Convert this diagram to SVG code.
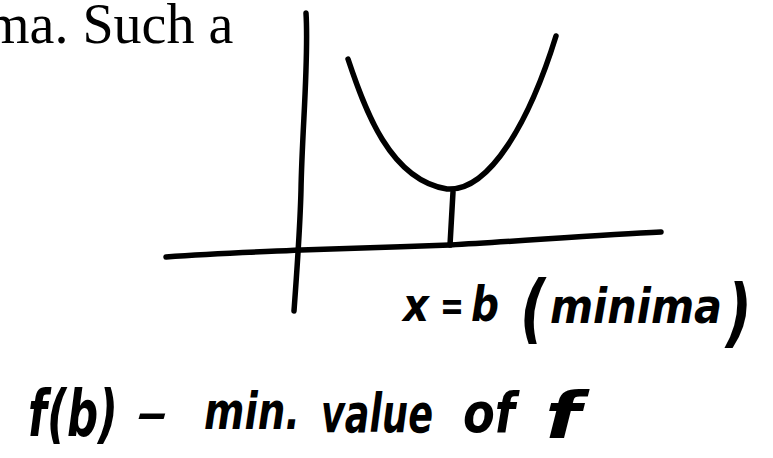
<svg xmlns="http://www.w3.org/2000/svg" width="773" height="458" viewBox="0 0 773 458">
<style>
.ink{fill:none;stroke:#000;stroke-width:5.5;stroke-linecap:round;stroke-linejoin:round}
.hand{font-family:"DejaVu Sans","Liberation Sans",sans-serif;font-style:italic;font-weight:bold;fill:#000}
.print{font-family:"Liberation Serif","Times New Roman",serif;fill:#000}
</style>
<rect width="773" height="458" fill="#fff"/>
<text class="print" x="-14" y="43" font-size="56">ma. Such a</text>
<g id="axes">
<path id="y-axis" class="ink" d="M306,13 C309,60 302,130 301,190 C300,230 297,270 294,311"/>
<path id="x-axis" class="ink" d="M166,257 C220,253 260,252 301,250 C360,248 400,247 450,245 C520,241 600,235 661,232"/>
</g>
<g id="curve">
<path class="ink" d="M348,59 C365,110 390,180 447,189 C490,192 530,120 556,36"/>
</g>
<g id="connectors">
<path class="ink" d="M453,192 L450,245"/>
</g>
<g id="label-minima">
<text class="hand" font-size="46" x="403" y="321" textLength="26" lengthAdjust="spacingAndGlyphs">x</text>
<text class="hand" font-size="40" x="440" y="320" textLength="24" lengthAdjust="spacingAndGlyphs">=</text>
<text class="hand" font-size="48" x="471" y="321" textLength="28" lengthAdjust="spacingAndGlyphs">b</text>
<text class="hand" font-size="74" x="520" y="334" textLength="26" lengthAdjust="spacingAndGlyphs">(</text>
<text class="hand" font-size="48" x="550" y="323" textLength="172" lengthAdjust="spacingAndGlyphs">minima</text>
<text class="hand" font-size="74" x="726" y="338" textLength="26" lengthAdjust="spacingAndGlyphs">)</text>
</g>
<g id="label-min-value">
<text class="hand" font-size="64" x="28" y="436" textLength="90" lengthAdjust="spacingAndGlyphs">f(b)</text>
<text class="hand" font-size="44" x="137" y="428" textLength="32" lengthAdjust="spacingAndGlyphs">–</text>
<text class="hand" font-size="52" x="204" y="429" textLength="96" lengthAdjust="spacingAndGlyphs">min.</text>
<text class="hand" font-size="54" x="321" y="432" textLength="112" lengthAdjust="spacingAndGlyphs">value</text>
<text class="hand" font-size="56" x="463" y="432" textLength="52" lengthAdjust="spacingAndGlyphs">of</text>
<text class="hand" font-size="64" x="545" y="438" textLength="36" lengthAdjust="spacingAndGlyphs">f</text>
</g>
</svg>
